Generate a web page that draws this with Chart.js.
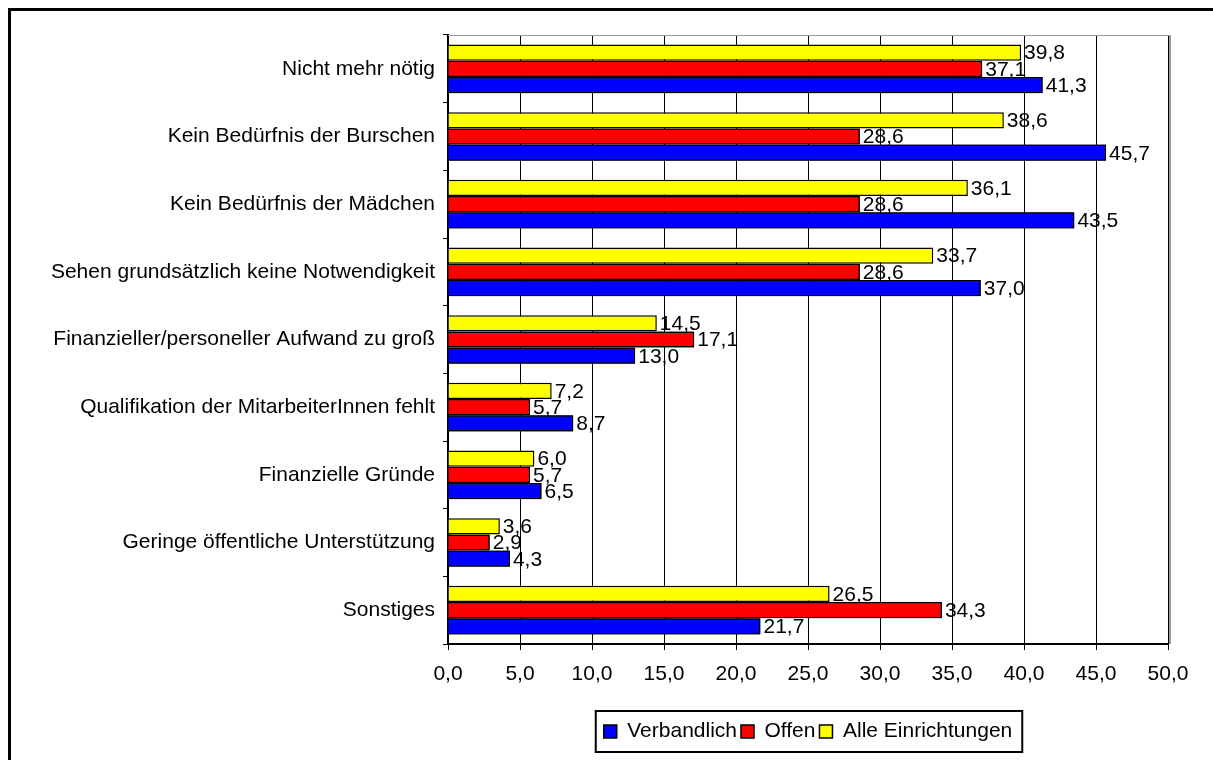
<!DOCTYPE html>
<html><head><meta charset="utf-8">
<script src="https://cdn.jsdelivr.net/npm/chart.js@4.4.1/dist/chart.umd.min.js"></script>
<style>
html,body{margin:0;padding:0;background:#fff;overflow:hidden;}
#wrap{position:relative;width:1213px;height:760px;overflow:hidden;}
#frame{position:absolute;left:8px;top:8px;width:1300px;height:800px;border-left:3px solid #000;border-top:3px solid #000;}
canvas{position:absolute;left:0;top:0;}
</style></head><body>
<div id="wrap"><div id="frame"></div><canvas id="c" width="1213" height="760"></canvas></div>
<script>
const categories = [
  "Nicht mehr nötig",
  "Kein Bedürfnis der Burschen",
  "Kein Bedürfnis der Mädchen",
  "Sehen grundsätzlich keine Notwendigkeit",
  "Finanzieller/personeller Aufwand zu groß",
  "Qualifikation der MitarbeiterInnen fehlt",
  "Finanzielle Gründe",
  "Geringe öffentliche Unterstützung",
  "Sonstiges"
];
const alleEinrichtungen = [39.8, 38.6, 36.1, 33.7, 14.5, 7.2, 6.0, 3.6, 26.5];
const offen            = [37.1, 28.6, 28.6, 28.6, 17.1, 5.7, 5.7, 2.9, 34.3];
const verbandlich      = [41.3, 45.7, 43.5, 37.0, 13.0, 8.7, 6.5, 4.3, 21.7];
const xMin = 0, xMax = 50, xStep = 5;

const FONT = { family: "'Liberation Sans', Arial, sans-serif", size: 21 };
const fmt = v => v.toFixed(1).replace('.', ',');

const labelPlugin = {
  id: 'valueLabels',
  beforeDatasetsDraw(chart) {
    const { ctx, chartArea: a } = chart;
    ctx.save();
    ctx.strokeStyle = '#9a9a9a';
    ctx.lineWidth = 1;
    ctx.beginPath(); ctx.moveTo(a.left, a.top + 0.5); ctx.lineTo(a.right + 2, a.top + 0.5); ctx.stroke();
    ctx.lineWidth = 2;
    ctx.beginPath(); ctx.moveTo(a.right + 2, a.top); ctx.lineTo(a.right + 2, a.bottom); ctx.stroke();
    ctx.restore();
  },
  afterDatasetsDraw(chart) {
    const ctx = chart.ctx;
    chart.data.datasets.forEach((ds, di) => {
      const meta = chart.getDatasetMeta(di);
      if (di > 0) meta.controller.draw();
      ctx.save();
      ctx.font = `${FONT.size}px ${FONT.family}`;
      ctx.fillStyle = '#000';
      ctx.textBaseline = 'middle';
      ctx.textAlign = 'left';
      meta.data.forEach((bar, j) => {
        ctx.fillText(fmt(ds.data[j]), bar.x + 3, bar.y + 1);
      });
      ctx.restore();
    });
  },
  afterDraw(chart) {
    const lg = chart.legend;
    if (!lg || !lg.legendHitBoxes || !lg.legendHitBoxes.length) return;
    const hb = lg.legendHitBoxes;
    const l = Math.min(...hb.map(h => h.left)) - 8;
    const r = Math.max(...hb.map(h => h.left + h.width)) + 10;
    const t = Math.min(...hb.map(h => h.top)) - 10;
    const b = Math.max(...hb.map(h => h.top + h.height)) + 10;
    const ctx = chart.ctx;
    ctx.save();
    ctx.strokeStyle = '#000';
    ctx.lineWidth = 2;
    ctx.strokeRect(l, t, r - l, b - t);
    ctx.restore();
  }
};

new Chart(document.getElementById('c'), {
  type: 'bar',
  data: {
    labels: categories,
    datasets: [
      { label: 'Alle Einrichtungen', data: alleEinrichtungen, backgroundColor: '#FFFF00', borderColor: '#000', borderWidth: 1.5 },
      { label: 'Offen', data: offen, backgroundColor: '#FF0000', borderColor: '#000', borderWidth: 1.5 },
      { label: 'Verbandlich', data: verbandlich, backgroundColor: '#0000FF', borderColor: '#000', borderWidth: 1.5 }
    ]
  },
  options: {
    indexAxis: 'y',
    responsive: false,
    animation: false,
    categoryPercentage: 0.72,
    barPercentage: 1.0,
    layout: { padding: { top: 35, left: 0, right: 45, bottom: 8 } },
    scales: {
      x: {
        type: 'linear', min: xMin, max: xMax,
        ticks: { stepSize: xStep, callback: v => fmt(v), color: '#000', font: FONT, padding: 12, maxRotation: 0 },
        grid: { color: '#000', lineWidth: 1, tickLength: 6, drawTicks: true },
        border: { color: '#000', width: 2 },
        afterFit: s => { s.height = 73; }
      },
      y: {
        type: 'category',
        ticks: { color: '#000', font: FONT, padding: 8, autoSkip: false },
        grid: { offset: true, drawOnChartArea: false, drawTicks: true, tickLength: 5, color: '#000', lineWidth: 1 },
        border: { color: '#000', width: 2 },
        afterFit: s => { s.width = 448; }
      }
    },
    plugins: {
      legend: {
        position: 'bottom',
        fullSize: false,
        reverse: true,
        labels: { boxWidth: 13, boxHeight: 13, padding: 4, color: '#000', font: FONT }
      },
      tooltip: { enabled: false }
    }
  },
  plugins: [labelPlugin]
});
</script>
</body></html>
